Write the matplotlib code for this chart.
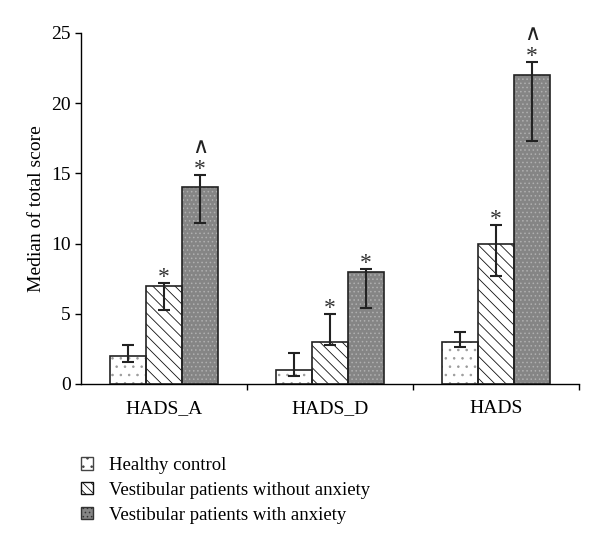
import numpy as np
import matplotlib
matplotlib.use('Agg')
import matplotlib.pyplot as plt
from matplotlib.patches import Patch

plt.rcParams['font.family'] = ['Liberation Serif', 'DejaVu Serif']
plt.rcParams['hatch.linewidth'] = 0.6

categories = ['HADS_A', 'HADS_D', 'HADS']
series_names = ['Healthy control',
                'Vestibular patients without anxiety',
                'Vestibular patients with anxiety']

# medians
healthy = [2, 1, 3]
without_anx = [7, 3, 10]
with_anx = [14, 8, 22]

# error bar ends (lower, upper)
healthy_lo = [1.6, 0.6, 2.6]
healthy_hi = [2.8, 2.2, 3.7]
without_lo = [5.3, 2.8, 7.7]
without_hi = [7.2, 5.0, 11.3]
with_lo = [11.5, 5.4, 17.3]
with_hi = [14.9, 8.2, 22.9]

# significance marks: star vs healthy, caret vs patients without anxiety
star_without = [True, True, True]
star_with = [True, True, True]
caret_with = [True, False, True]

fig = plt.figure(figsize=(6, 5.48), dpi=100)
ax = fig.add_axes([0.135, 0.2993, 0.83, 0.6405])

x = np.arange(len(categories))
w = 0.217

def draw(offset, vals, lo, hi, face, hatch, hatch_col):
    pos = x + offset
    # fill with texture
    ax.bar(pos, vals, w, color=face, edgecolor=hatch_col, hatch=hatch, linewidth=0, zorder=2)
    # outline
    ax.bar(pos, vals, w, fill=False, edgecolor='#222222', linewidth=1.2, zorder=3)
    v = np.array(vals)
    yerr = [v - np.array(lo), np.array(hi) - v]
    ax.errorbar(pos, v, yerr=yerr, fmt='none', ecolor='#222222', elinewidth=1.5,
                capsize=4, capthick=1.5, zorder=4)
    return pos

draw(-w, healthy, healthy_lo, healthy_hi, 'white', '..', '#9a9a9a')
p2 = draw(0, without_anx, without_lo, without_hi, 'white', '\\\\\\', '#111111')
p3 = draw(w, with_anx, with_lo, with_hi, '#858585', '....', '#b0b0b0')

for px, top, s in zip(p2, without_hi, star_without):
    if s:
        ax.text(px, top + 0.4, '*', ha='center', va='center', fontsize=17,
                color='#333333')
for px, top, s, c in zip(p3, with_hi, star_with, caret_with):
    if s:
        ax.text(px, top + 0.4, '*', ha='center', va='center', fontsize=17,
                color='#333333')
    if c:
        ax.text(px, top + 2.0, '∧', ha='center', va='center', fontsize=16,
                family=['DejaVu Sans'], color='#222222')

ax.set_xlim(-0.5, 2.5)
ax.set_ylim(0, 25)
ax.set_yticks([0, 5, 10, 15, 20, 25])
ax.set_xticks([0.5, 1.5, 2.5], minor=False)
ax.set_xticklabels([])
ax.tick_params(axis='x', length=4, direction='out', width=1)
ax.tick_params(axis='y', length=4, direction='out', width=1, labelsize=14)
for i, c in enumerate(categories):
    ax.text(x[i], -2.05, c, ha='center', va='baseline', fontsize=14)

for s in ['top', 'right']:
    ax.spines[s].set_visible(False)
ax.spines['left'].set_linewidth(1)
ax.spines['bottom'].set_linewidth(1)
ax.set_ylabel('Median of total score', fontsize=14, labelpad=4)

handles = [
    Patch(facecolor='white', edgecolor='#444444', hatch='..', linewidth=1),
    Patch(facecolor='white', edgecolor='#111111', hatch='\\\\\\\\', linewidth=1),
    Patch(facecolor='#858585', edgecolor='#333333', hatch='....', linewidth=1),
]
fig.legend(handles, series_names, loc='upper left', bbox_to_anchor=(0.122, 0.18),
           frameon=False, fontsize=13.5, handlelength=0.65, handleheight=0.65,
           handletextpad=0.85, labelspacing=0.42, borderaxespad=0)

fig.savefig('out.png', dpi=100)
